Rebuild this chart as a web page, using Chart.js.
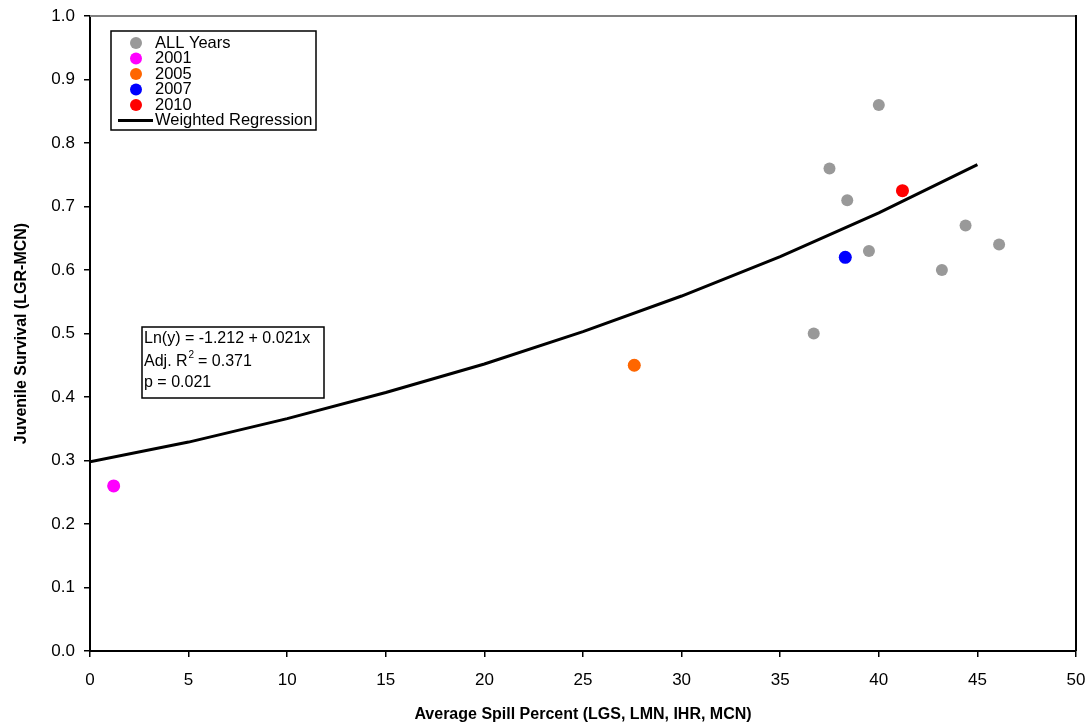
<!DOCTYPE html>
<html>
<head>
<meta charset="utf-8">
<script src="https://cdn.jsdelivr.net/npm/chart.js@4/dist/chart.umd.min.js"></script>
<style>
  html, body { margin: 0; padding: 0; background: #fff; }
  #wrap { width: 1090px; height: 724px; }
</style>
</head>
<body>
<div id="wrap"><canvas id="survChart"></canvas></div>
<script>
// === data ===
const allYearsX = [1.2, 27.6, 36.7, 37.5, 38.3, 38.4, 39.5, 40.0, 41.2, 43.2, 44.4, 46.1];
const allYearsY = [0.26, 0.45, 0.50, 0.76, 0.62, 0.71, 0.63, 0.86, 0.725, 0.60, 0.67, 0.64];

const yearLabels = ['2001', '2005', '2007', '2010'];
const yearX = [1.2, 27.6, 38.3, 41.2];
const yearY = [0.26, 0.45, 0.62, 0.725];
const yearColors = ['#ff00ff', '#ff6600', '#0000ff', '#ff0000'];

const regX = [0, 5, 10, 15, 20, 25, 30, 35, 40, 45];
const regY = [0.298, 0.329, 0.366, 0.407, 0.452, 0.503, 0.559, 0.621, 0.690, 0.766];

const statLines = ['Ln(y) = -1.212 + 0.021x', 'Adj. R', 'p = 0.021'];

const FONT = '"Liberation Sans", Arial, sans-serif';
const GRAY = '#999999';

// build datasets (lower order = drawn on top)
const datasets = [];
datasets.push({
  label: 'ALL Years',
  data: allYearsX.map((x, i) => ({ x: x, y: allYearsY[i] })),
  backgroundColor: GRAY,
  borderWidth: 0,
  pointRadius: 6,
  showLine: false,
  order: 3
});
yearLabels.forEach((lab, i) => {
  datasets.push({
    label: lab,
    data: [{ x: yearX[i], y: yearY[i] }],
    backgroundColor: yearColors[i],
    borderWidth: 0,
    pointRadius: 6.5,
    showLine: false,
    order: 1
  });
});
datasets.push({
  label: 'Weighted Regression',
  data: regX.map((x, i) => ({ x: x, y: regY[i] })),
  borderColor: '#000',
  borderWidth: 3,
  pointRadius: 0,
  showLine: true,
  tension: 0,
  order: 2
});

// top (gray) and right (black) frame of the plot area
const framePlugin = {
  id: 'frame',
  beforeDatasetsDraw(chart) {
    const a = chart.chartArea;
    const ctx = chart.ctx;
    ctx.save();
    ctx.lineWidth = 2;
    ctx.strokeStyle = '#808080';
    ctx.beginPath();
    ctx.moveTo(a.left, a.top);
    ctx.lineTo(a.right, a.top);
    ctx.stroke();
    ctx.strokeStyle = '#000';
    ctx.beginPath();
    ctx.moveTo(a.right, a.top - 1);
    ctx.lineTo(a.right, a.bottom);
    ctx.stroke();
    ctx.restore();
  }
};

// legend box + stats box drawn on top
const boxesPlugin = {
  id: 'boxes',
  afterDraw(chart) {
    const ctx = chart.ctx;
    ctx.save();

    // legend
    ctx.strokeStyle = '#000';
    ctx.lineWidth = 1.5;
    ctx.fillStyle = '#fff';
    ctx.fillRect(111, 31, 205, 99);
    ctx.strokeRect(111, 31, 205, 99);
    ctx.font = '16.5px ' + FONT;
    ctx.textBaseline = 'middle';
    const rows = ['ALL Years'].concat(yearLabels);
    const cols = [GRAY].concat(yearColors);
    rows.forEach((r, i) => {
      const y = 43 + i * 15.5;
      ctx.fillStyle = cols[i];
      ctx.beginPath();
      ctx.arc(136, y, 6, 0, Math.PI * 2);
      ctx.fill();
      ctx.fillStyle = '#000';
      ctx.fillText(r, 155, y);
    });
    const ly = 43 + 5 * 15.5;
    ctx.strokeStyle = '#000';
    ctx.lineWidth = 3;
    ctx.beginPath();
    ctx.moveTo(118, ly);
    ctx.lineTo(153, ly);
    ctx.stroke();
    ctx.fillText('Weighted Regression', 155, ly);

    // stats box
    ctx.lineWidth = 1.5;
    ctx.fillStyle = '#fff';
    ctx.fillRect(142, 327, 182, 71);
    ctx.strokeRect(142, 327, 182, 71);
    ctx.fillStyle = '#000';
    ctx.font = '16px ' + FONT;
    ctx.fillText(statLines[0], 144, 339);
    ctx.fillText(statLines[1], 144, 362);
    let w = ctx.measureText(statLines[1]).width;
    ctx.font = '10px ' + FONT;
    ctx.fillText('2', 144 + w + 1, 355);
    ctx.font = '16px ' + FONT;
    ctx.fillText(' = 0.371', 144 + w + 6, 362);
    ctx.fillText(statLines[2], 144, 383);
    ctx.restore();
  }
};

const ctx = document.getElementById('survChart').getContext('2d');
new Chart(ctx, {
  type: 'scatter',
  data: { datasets: datasets },
  plugins: [framePlugin, boxesPlugin],
  options: {
    responsive: true,
    maintainAspectRatio: false,
    animation: false,
    layout: { padding: { left: 0, right: 14, top: 16, bottom: 0 } },
    plugins: {
      legend: { display: false },
      tooltip: { enabled: false }
    },
    scales: {
      x: {
        type: 'linear',
        min: 0,
        max: 50,
        ticks: {
          stepSize: 5,
          color: '#000',
          font: { family: FONT, size: 17 },
          padding: 13,
          maxRotation: 0
        },
        grid: { drawOnChartArea: false, drawTicks: true, tickLength: 6, color: '#000', lineWidth: 1.5 },
        border: { color: '#000', width: 2 },
        title: {
          display: true,
          text: 'Average Spill Percent (LGS, LMN, IHR, MCN)',
          color: '#000',
          font: { family: FONT, size: 16, weight: 'bold' },
          padding: { top: 8, bottom: 0 }
        },
        afterFit(scale) {
          scale.height = 73;
          scale.paddingLeft = 0;
          scale.paddingRight = 0;
        }
      },
      y: {
        type: 'linear',
        min: 0,
        max: 1,
        ticks: {
          stepSize: 0.1,
          color: '#000',
          font: { family: FONT, size: 17 },
          padding: 9,
          callback: v => v.toFixed(1)
        },
        grid: { drawOnChartArea: false, drawTicks: true, tickLength: 6, color: '#000', lineWidth: 1.5 },
        border: { color: '#000', width: 2 },
        title: {
          display: true,
          text: 'Juvenile Survival (LGR-MCN)',
          color: '#000',
          font: { family: FONT, size: 16, weight: 'bold' },
          padding: { top: 12, bottom: 0 }
        },
        afterFit(scale) {
          scale.width = 90;
          scale.paddingTop = 0;
          scale.paddingBottom = 0;
        }
      }
    }
  }
});
</script>
</body>
</html>
